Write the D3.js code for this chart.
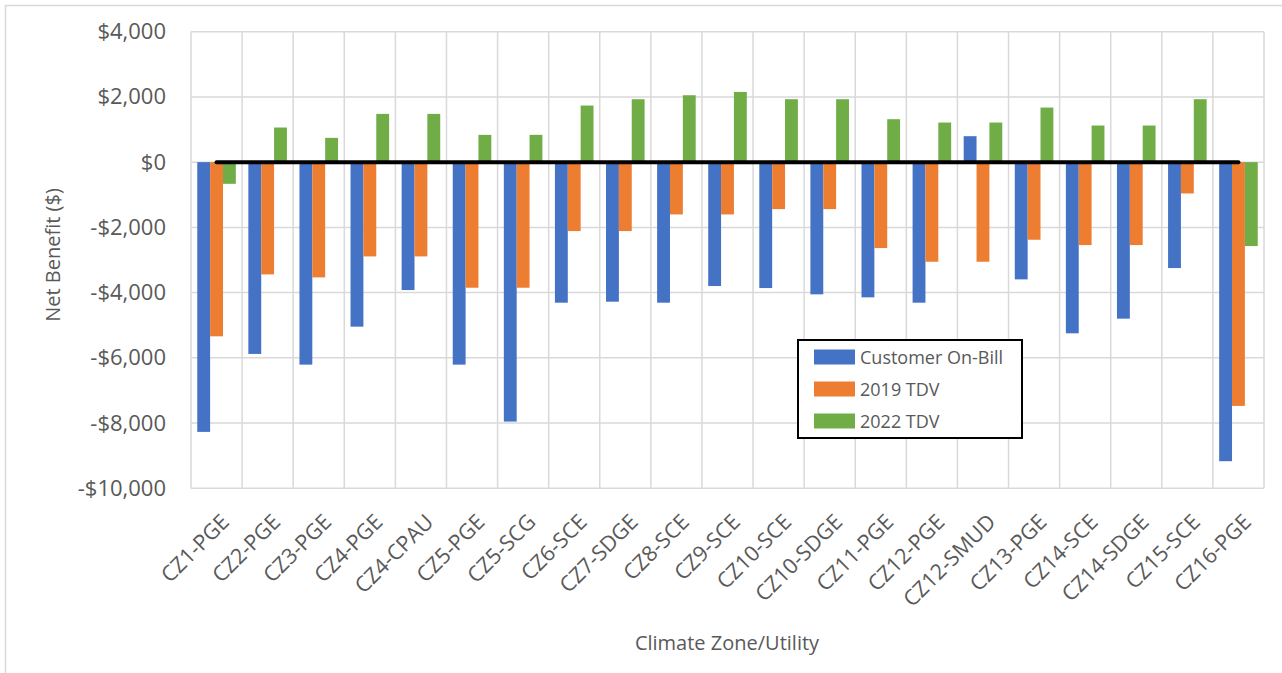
<!DOCTYPE html>
<html>
<head>
<meta charset="utf-8">
<script src="https://cdn.jsdelivr.net/npm/d3@7"></script>
<style>
  html, body { margin: 0; padding: 0; background: #fff; }
  svg { display: block; font-family: "Open Sans", sans-serif; }
</style>
</head>
<body>
<svg id="chart" width="1282" height="673"></svg>
<script>
const categories = ["CZ1-PGE","CZ2-PGE","CZ3-PGE","CZ4-PGE","CZ4-CPAU","CZ5-PGE","CZ5-SCG","CZ6-SCE","CZ7-SDGE","CZ8-SCE","CZ9-SCE","CZ10-SCE","CZ10-SDGE","CZ11-PGE","CZ12-PGE","CZ12-SMUD","CZ13-PGE","CZ14-SCE","CZ14-SDGE","CZ15-SCE","CZ16-PGE"];
const seriesNames = ["Customer On-Bill", "2019 TDV", "2022 TDV"];
const customerOnBill = [-8270,-5880,-6208,-5044,-3921,-6208,-7954,-4309,-4278,-4309,-3798,-3860,-4053,-4145,-4309,796,-3594,-5248,-4799,-3247,-9169];
const tdv2019 = [-5340,-3441,-3533,-2890,-2890,-3850,-3850,-2113,-2113,-1603,-1603,-1440,-1440,-2634,-3053,-3053,-2379,-2542,-2542,-960,-7474];
const tdv2022 = [-664,1062,745,1480,1480,837,837,1736,1930,2052,2154,1930,1930,1317,1215,1215,1674,1123,1123,1930,-2573];
const zeroLine = [0,0,0,0,0,0,0,0,0,0,0,0,0,0,0,0,0,0,0,0,0];
const yTicks = [-10000,-8000,-6000,-4000,-2000,0,2000,4000];
const colors = ["#4472C4", "#ED7D31", "#70AD47"];

const svg = d3.select("#chart");
const W = 1282, H = 673;
const plot = { left: 191, right: 1264, top: 31.7, bottom: 488.3 };
const textColor = "#595959";
const gridColor = "#d9d9d9";

// outer chart border (only top/left visible as in reference)
svg.append("rect")
  .attr("x", 5.5).attr("y", 5.5)
  .attr("width", W + 20).attr("height", H + 20)
  .attr("fill", "#fff").attr("stroke", gridColor).attr("stroke-width", 1.5);

const x0 = d3.scaleBand().domain(categories).range([plot.left, plot.right])
  .paddingInner(0.245).paddingOuter(0.1225);
const x1 = d3.scaleBand().domain(seriesNames).range([0, x0.bandwidth()]);
const y = d3.scaleLinear().domain([-10000, 4000]).range([plot.bottom, plot.top]);

// horizontal gridlines
svg.append("g").selectAll("line").data(yTicks).join("line")
  .attr("x1", plot.left).attr("x2", plot.right)
  .attr("y1", d => y(d)).attr("y2", d => y(d))
  .attr("stroke", gridColor).attr("stroke-width", 1.5);

// vertical gridlines at category boundaries
const bounds = categories.map(c => x0(c) - x0.step() * x0.paddingInner() / 2);
bounds.push(plot.right);
svg.append("g").selectAll("line").data(bounds).join("line")
  .attr("x1", d => d).attr("x2", d => d)
  .attr("y1", plot.top).attr("y2", plot.bottom)
  .attr("stroke", gridColor).attr("stroke-width", 1.5);

// Y axis tick labels
const yAxis = d3.axisLeft(y).tickValues(yTicks).tickSize(0).tickPadding(0)
  .tickFormat(d => (d < 0 ? "-$" : "$") + d3.format(",")(Math.abs(d)));
const yg = svg.append("g").attr("transform", `translate(${166},0)`).call(yAxis);
yg.select(".domain").remove();
yg.selectAll("text").attr("fill", textColor).style("font-size", "22px")
  .style("font-family", "'Open Sans', sans-serif");

// bars
const series = [customerOnBill, tdv2019, tdv2022];
const gBars = svg.append("g");
series.forEach((vals, si) => {
  gBars.append("g").selectAll("rect").data(vals).join("rect")
    .attr("x", (d, i) => x0(categories[i]) + x1(seriesNames[si]))
    .attr("width", x1.bandwidth())
    .attr("y", d => y(Math.max(0, d)))
    .attr("height", d => Math.abs(y(d) - y(0)))
    .attr("fill", colors[si]);
});

// black zero line series
const line = d3.line()
  .x((d, i) => x0(categories[i]) + x0.bandwidth() / 2)
  .y(d => y(d));
svg.append("path").datum(zeroLine)
  .attr("d", line).attr("fill", "none")
  .attr("stroke", "#000").attr("stroke-width", 4).attr("stroke-linecap", "round");

// X axis labels rotated
const xAxis = d3.axisBottom(x0).tickSize(0).tickPadding(0);
const xg = svg.append("g").attr("transform", `translate(0,${plot.bottom})`).call(xAxis);
xg.select(".domain").remove();
xg.selectAll("text")
  .attr("fill", textColor).style("font-size", "21.5px")
  .style("font-family", "'Open Sans', sans-serif")
  .attr("text-anchor", "end")
  .attr("dy", null).attr("y", null)
  .attr("transform", "translate(14,35) rotate(-45)");

// axis titles
svg.append("text")
  .attr("transform", "translate(52,255) rotate(-90)")
  .attr("text-anchor", "middle").attr("dominant-baseline", "central")
  .attr("fill", textColor).style("font-size", "20px")
  .text("Net Benefit ($)");
svg.append("text")
  .attr("x", 727).attr("y", 642)
  .attr("text-anchor", "middle").attr("dominant-baseline", "central")
  .attr("fill", textColor).style("font-size", "20px")
  .text("Climate Zone/Utility");

// legend
const lg = svg.append("g");
lg.append("rect").attr("x", 798).attr("y", 340).attr("width", 224).attr("height", 98)
  .attr("fill", "#fff").attr("stroke", "#000").attr("stroke-width", 2);
const legY = d3.scalePoint().domain(seriesNames).range([357, 421]);
const items = lg.selectAll("g.item").data(seriesNames).join("g").attr("class", "item");
items.append("rect")
  .attr("x", 814).attr("y", d => legY(d) - 7.5).attr("width", 41).attr("height", 15)
  .attr("fill", (d, i) => colors[i]);
items.append("text")
  .attr("x", 860).attr("y", d => legY(d)).attr("dominant-baseline", "central")
  .attr("fill", textColor).style("font-size", "18px")
  .text(d => d);
</script>
</body>
</html>
